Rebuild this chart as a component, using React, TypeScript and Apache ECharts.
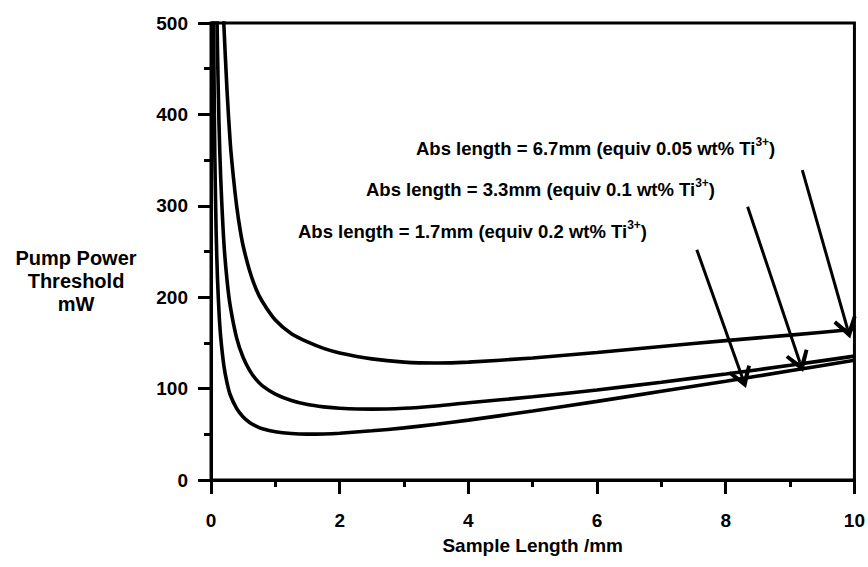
import React, { useEffect, useRef } from "react";
import * as echarts from "echarts";

// Sample length (mm) and pump power threshold (mW) for each absorption length
const L17 = [0.035, 0.04, 0.05, 0.06, 0.08, 0.1, 0.125, 0.15, 0.2, 0.25, 0.3, 0.4, 0.5, 0.6, 0.7, 0.8, 1, 1.25, 1.5, 1.75, 2, 2.5, 3, 3.5, 4, 5, 6, 7, 8, 9, 10];
const P17 = [590, 515, 417, 352, 271, 222, 183, 157, 125, 106, 93, 78, 69, 63, 59, 56, 52.7, 50.8, 50.2, 50.4, 51.2, 53.8, 57, 61, 65.5, 75.5, 86, 97, 108, 119.5, 131];

const L33 = [0.07, 0.08, 0.1, 0.125, 0.15, 0.2, 0.25, 0.3, 0.4, 0.5, 0.6, 0.7, 0.8, 1, 1.25, 1.5, 1.75, 2, 2.5, 3, 3.5, 4, 5, 6, 7, 8, 9, 10];
const P33 = [658, 582, 474, 388, 332, 260, 218, 190, 155, 134, 120, 110, 103, 94, 87, 82.5, 80, 78.5, 77.5, 78.5, 81, 84.5, 91, 98.5, 107, 116, 125.5, 135.5];

const L67 = [0.18, 0.2, 0.25, 0.3, 0.35, 0.4, 0.45, 0.5, 0.6, 0.7, 0.8, 1, 1.25, 1.5, 1.75, 2, 2.5, 3, 3.5, 4, 5, 6, 7, 8, 9, 10];
const P67 = [540, 498, 425, 368, 330, 299, 275, 256, 229, 209, 195, 175, 160, 151, 144, 139, 132.5, 129, 128, 129, 133.5, 139.5, 146, 152.5, 158.5, 165];

const LABELS = [
  { abs: "6.7mm", conc: "0.05" },
  { abs: "3.3mm", conc: "0.1" },
  { abs: "1.7mm", conc: "0.2" },
];

// Annotation arrows, in data units: [start, end]
const ARROWS = [
  [[9.19, 339], [9.89, 166]],
  [[8.34, 299], [9.15, 129]],
  [[7.55, 252], [8.26, 111.5]],
];

const X_NAME = "Sample Length /mm";
const Y_NAME = "Pump Power\nThreshold\nmW";

export default function App() {
  const ref = useRef<HTMLDivElement>(null);
  useEffect(() => {
    const chart = echarts.init(ref.current!, null, { renderer: "svg" });
    const font = "'Liberation Sans', Arial, Helvetica, sans-serif";
    const zip = (xs: number[], ys: number[]) => xs.map((x, i) => [x, ys[i]]);
    const mkLine = (name: string, xs: number[], ys: number[], extra: any = {}) => ({
      type: "line",
      name,
      data: zip(xs, ys),
      showSymbol: false,
      symbol: "none",
      smooth: 0.25,
      clip: true,
      lineStyle: { color: "#000", width: 3.6 },
      z: 3,
      silent: true,
      ...extra,
    });
    const axisCommon = {
      axisLine: { show: true, onZero: false, lineStyle: { color: "#000", width: 3 } },
      splitLine: { show: false },
      minorSplitLine: { show: false },
    };
    const labelPos = [
      { x: 416, y: 149 },
      { x: 366, y: 190 },
      { x: 298, y: 232 },
    ];
    const option: any = {
      animation: false,
      backgroundColor: "#fff",
      grid: { left: 211, right: 11, top: 23, bottom: 87, show: true, borderColor: "#000", borderWidth: 3 },
      xAxis: {
        type: "value",
        min: 0,
        max: 10,
        interval: 2,
        ...axisCommon,
        axisTick: { show: true, inside: false, length: 14, lineStyle: { color: "#000", width: 3 } },
        minorTick: { show: true, splitNumber: 2, length: 7, lineStyle: { color: "#000", width: 3 } },
        axisLabel: { color: "#000", fontSize: 19, fontWeight: "bold", fontFamily: font, margin: 31 },
        name: X_NAME,
        nameLocation: "middle",
        nameGap: 56,
        nameTextStyle: { color: "#000", fontSize: 19, fontWeight: "bold", fontFamily: font },
      },
      yAxis: {
        type: "value",
        min: 0,
        max: 500,
        interval: 100,
        ...axisCommon,
        axisTick: { show: true, inside: false, length: 13, lineStyle: { color: "#000", width: 3 } },
        minorTick: { show: true, splitNumber: 2, length: 7, lineStyle: { color: "#000", width: 3 } },
        axisLabel: { color: "#000", fontSize: 19, fontWeight: "bold", fontFamily: font, margin: 23 },
      },
      series: [
        mkLine("1.7mm", L17, P17, {
          markLine: {
            silent: true,
            animation: false,
            symbol: ["none", "path://M0,0 L9,15 L6.6,16.6 L0,6.4 L-6.6,16.6 L-9,15 Z"],
            symbolSize: [24, 21],
            label: { show: false },
            emphasis: { disabled: true },
            lineStyle: { color: "#000", width: 3, type: "solid" },
            data: ARROWS.map((a) => [{ coord: a[0] }, { coord: a[1] }]),
          },
        }),
        mkLine("3.3mm", L33, P33),
        mkLine("6.7mm", L67, P67),
      ],
      graphic: [
        ...LABELS.map((l, i) => ({
          type: "text",
          left: labelPos[i].x,
          top: labelPos[i].y - 13,
          style: {
            text: `{a|Abs length = ${l.abs} (equiv ${l.conc} wt% Ti}{s|3+}{a|)}`,
            rich: {
              a: { fontSize: 18.5, fontWeight: "bold", fontFamily: font, fill: "#000", lineHeight: 26 },
              s: { fontSize: 12, fontWeight: "bold", fontFamily: font, fill: "#000", padding: [0, 0, 13, 0] },
            },
          },
          silent: true,
        })),
        {
          type: "text",
          x: 76,
          y: 281,
          style: {
            text: Y_NAME,
            align: "center",
            verticalAlign: "middle",
            fontSize: 20,
            fontWeight: "bold",
            fontFamily: font,
            lineHeight: 23,
            fill: "#000",
          },
          silent: true,
        },
      ],
    };
    chart.setOption(option);
    return () => chart.dispose();
  }, []);
  return (
    <div
      ref={ref}
      style={{ position: "fixed", left: 0, top: 0, width: 868, height: 567, background: "#fff" }}
    />
  );
}
